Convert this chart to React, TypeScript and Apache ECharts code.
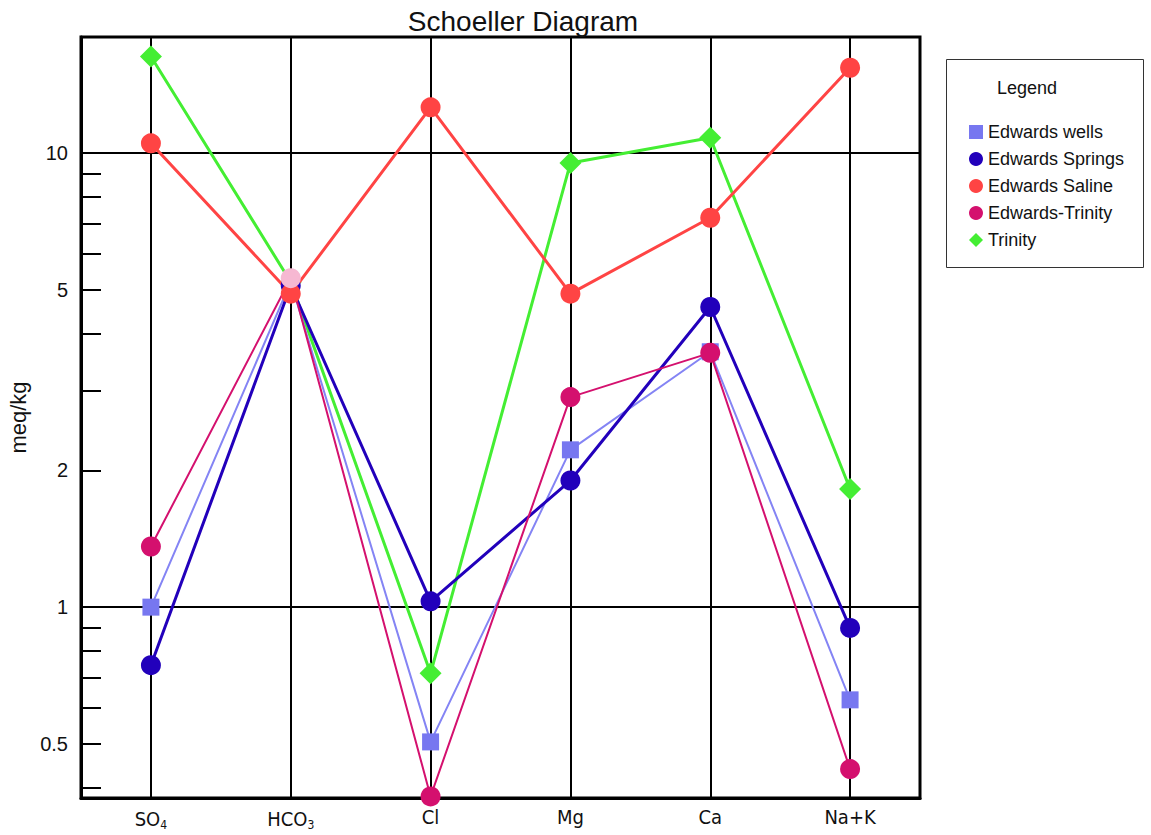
import React, { useEffect, useRef } from "react";
import * as echarts from "echarts";

const categories = ["SO4", "HCO3", "Cl", "Mg", "Ca", "Na+K"];
const edwardsWells = [1.0, 5.2, 0.505, 2.22, 3.65, 0.625];
const edwardsSprings = [0.745, 5.1, 1.03, 1.9, 4.58, 0.9];
const edwardsSaline = [10.5, 4.9, 12.6, 4.9, 7.2, 15.4];
const edwardsTrinity = [1.36, 5.3, 0.383, 2.9, 3.63, 0.44];
const trinity = [16.3, 5.2, 0.715, 9.5, 10.8, 1.82];
const yLabelValues = [0.5, 1, 2, 5, 10];
const yTickValues = [0.4, 0.5, 0.6, 0.7, 0.8, 0.9, 2, 3, 4, 5, 6, 7, 8, 9];

const FONT = "'Liberation Sans', Arial, sans-serif";
const NARROW = "'Liberation Sans Narrow', 'DejaVu Sans Condensed', " + FONT;

export default function App() {
  const ref = useRef<HTMLDivElement>(null);
  useEffect(() => {
    if (!ref.current) return;
    const chart = echarts.init(ref.current, null, { renderer: "svg" });
    const mk = (
      name: string,
      data: number[],
      color: string,
      lineColor: string,
      symbol: string,
      symbolSize: number,
      width: number,
      z: number,
      special?: (v: number, i: number) => any
    ) => ({
      name,
      type: "line",
      yAxisIndex: 0,
      data: data.map((v, i) => (special ? special(v, i) : v)),
      symbol,
      symbolSize,
      itemStyle: { color },
      lineStyle: { color: lineColor, width },
      z,
    });
    chart.setOption({
      animation: false,
      textStyle: { fontFamily: FONT },
      title: {
        text: "Schoeller Diagram",
        left: 518,
        top: 2,
        textAlign: "center",
        textStyle: { fontSize: 28, fontWeight: "normal", color: "#111", fontFamily: FONT },
      },
      grid: {
        left: 81,
        top: 37,
        width: 839,
        height: 761,
        outerBoundsMode: "none",
        containLabel: false,
        show: true,
        borderColor: "#000",
        borderWidth: 3,
        backgroundColor: "transparent",
      },
      legend: {
        orient: "vertical",
        left: 964,
        top: 118,
        itemWidth: 14,
        itemHeight: 14,
        itemGap: 9,
        textStyle: { fontSize: 18, color: "#111", fontFamily: FONT },
        data: [
          { name: "Edwards wells", icon: "rect" },
          { name: "Edwards Springs", icon: "circle" },
          { name: "Edwards Saline", icon: "circle" },
          { name: "Edwards-Trinity", icon: "circle" },
          { name: "Trinity", icon: "diamond" },
        ],
      },
      graphic: [
        {
          type: "rect",
          shape: { x: 946.5, y: 59.5, width: 197, height: 208 },
          style: { fill: "none", stroke: "#333", lineWidth: 1 },
          z: 0,
        },
        {
          type: "text",
          x: 997,
          y: 88,
          style: {
            text: "Legend",
            fontSize: 18,
            fill: "#111",
            fontFamily: FONT,
            verticalAlign: "middle",
          },
        },
      ],
      xAxis: {
        type: "category",
        data: categories,
        boundaryGap: true,
        axisLine: { show: true, lineStyle: { color: "#000", width: 3 } },
        axisTick: { show: false, alignWithLabel: true, interval: 0 },
        splitLine: {
          show: true,
          alignWithLabel: true,
          interval: 0,
          lineStyle: { color: "#000", width: 2 },
        },
        axisLabel: {
          interval: 0,
          margin: 9,
          color: "#111",
          fontSize: 20,
          fontFamily: NARROW,
          formatter: (v: string) => v.replace(/(\d)/g, "{sub|$1}"),
          rich: {
            sub: {
              fontSize: 12,
              color: "#111",
              fontFamily: NARROW,
              padding: [12, 0, 0, 0],
            },
          },
        },
      },
      yAxis: [
        {
          type: "log",
          logBase: 10,
          min: 0.38,
          max: 18,
          name: "meq/kg",
          nameLocation: "middle",
          nameRotate: 90,
          nameGap: 52,
          nameTextStyle: { fontSize: 22, color: "#111", fontFamily: FONT },
          axisLine: { show: true, lineStyle: { color: "#000", width: 3 } },
          axisTick: {
            show: true,
            inside: true,
            length: 20,
            customValues: yTickValues,
            lineStyle: { color: "#000", width: 2 },
          },
          axisLabel: {
            customValues: yLabelValues,
            fontSize: 20,
            color: "#111",
            margin: 13,
            formatter: (v: number) => String(v),
          },
          splitLine: { show: false },
        },
        {
          type: "log",
          logBase: 10,
          min: 0.38,
          max: 18,
          position: "left",
          axisLine: { show: false },
          axisTick: { show: false },
          axisLabel: { show: false },
          splitLine: { show: true, lineStyle: { color: "#000", width: 2 } },
        },
      ],
      series: [
        mk("Edwards wells", edwardsWells, "#7777f0", "#8484f4", "rect", 17, 2, 3),
        mk("Edwards Springs", edwardsSprings, "#2200bb", "#2200bb", "circle", 20, 3, 3),
        mk("Edwards Saline", edwardsSaline, "#ff4444", "#ff4444", "circle", 20, 3, 3),
        mk("Edwards-Trinity", edwardsTrinity, "#d4106e", "#d4106e", "circle", 20, 2, 3, (v, i) =>
          i === 1 ? { value: v, itemStyle: { color: "#f6b8d2" } } : v
        ),
        mk("Trinity", trinity, "#44ee33", "#44ee33", "diamond", 22, 3, 2),
      ],
    });
    return () => chart.dispose();
  }, []);
  return (
    <div
      ref={ref}
      style={{ position: "fixed", left: 0, top: 0, width: 1151, height: 835, background: "#fff" }}
    />
  );
}
